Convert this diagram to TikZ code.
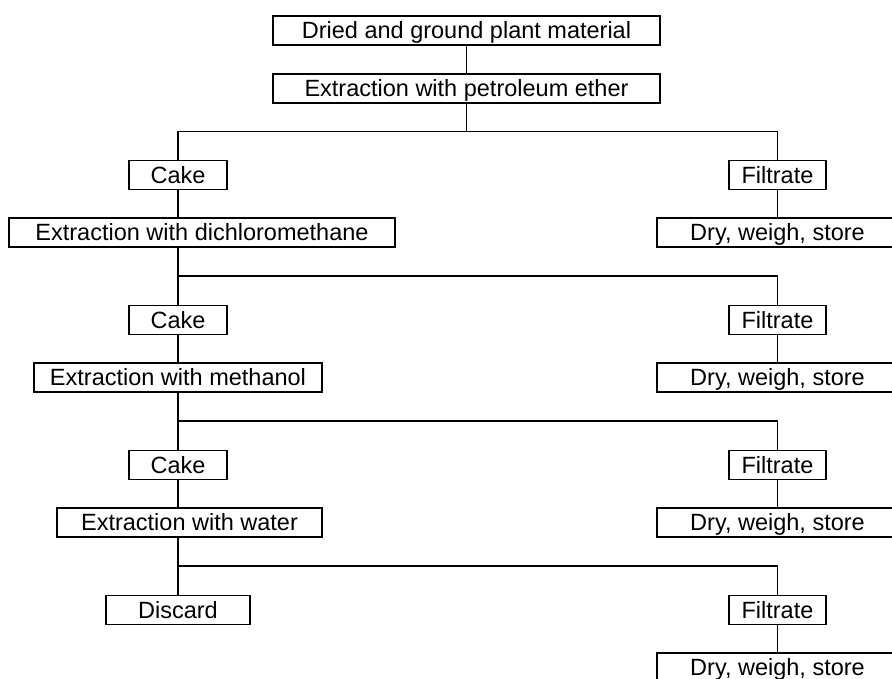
\documentclass[tikz,border=0pt]{standalone}
\usepackage{fontspec}
\setmainfont{Liberation Sans}
\usepackage{tikz}

\begin{document}
\begin{tikzpicture}[x=1pt,y=-1pt,line width=1.8pt,
  stepbox/.style={draw,inner sep=0pt,minimum height=29pt,
    text height=16.8pt,text depth=0pt,
    font=\fontsize{23.5}{28}\selectfont}]
  \useasboundingbox (0,0) rectangle (892,678);
  \node[stepbox,minimum width=387pt] (dried) at (466.5,30.5) {Dried and ground plant material};
  \node[stepbox,minimum width=387pt] (petrol) at (466.5,88.5) {Extraction with petroleum ether};
  \node[stepbox,minimum width=98pt] (cakeA) at (178,175) {Cake};
  \node[stepbox,minimum width=97pt] (filtA) at (777.5,175) {Filtrate};
  \node[stepbox,minimum width=386pt] (dcm) at (202,232.5) {Extraction with dichloromethane};
  \node[stepbox,minimum width=241pt] (dryA) at (777.5,232.5) {Dry, weigh, store};
  \node[stepbox,minimum width=98pt] (cakeB) at (178,320) {Cake};
  \node[stepbox,minimum width=97pt] (filtB) at (777.5,320) {Filtrate};
  \node[stepbox,minimum width=288pt] (meoh) at (178,377.5) {Extraction with methanol};
  \node[stepbox,minimum width=241pt] (dryB) at (777.5,377.5) {Dry, weigh, store};
  \node[stepbox,minimum width=98pt] (cakeC) at (178,465) {Cake};
  \node[stepbox,minimum width=97pt] (filtC) at (777.5,465) {Filtrate};
  \node[stepbox,minimum width=265pt] (water) at (189.5,522.5) {Extraction with water};
  \node[stepbox,minimum width=241pt] (dryC) at (777.5,522.5) {Dry, weigh, store};
  \node[stepbox,minimum width=144pt] (discard) at (178,610) {Discard};
  \node[stepbox,minimum width=97pt] (filtD) at (777.5,610) {Filtrate};
  \node[stepbox,minimum width=241pt] (dryD) at (777.5,667.5) {Dry, weigh, store};
  % split points
  \coordinate (splitA) at (466.5,131.5);
  \coordinate (splitB) at (178,276);
  \coordinate (splitC) at (178,421);
  \coordinate (splitD) at (178,566);
  \draw (dried) -- (petrol);
  \draw (petrol) -- (splitA);
  \draw (cakeA) |- (splitA) -| (filtA);
  \draw (cakeA) -- (dcm.north -| cakeA);
  \draw (dcm.south -| splitB) -- (cakeB);
  \draw (splitB) -| (filtB);
  \draw (cakeB) -- (meoh);
  \draw (meoh) -- (cakeC);
  \draw (splitC) -| (filtC);
  \draw (cakeC) -- (water.north -| cakeC);
  \draw (water.south -| splitD) -- (discard);
  \draw (splitD) -| (filtD);
  \draw (filtA) -- (dryA);
  \draw (filtB) -- (dryB);
  \draw (filtC) -- (dryC);
  \draw (filtD) -- (dryD);
\end{tikzpicture}
\end{document}
